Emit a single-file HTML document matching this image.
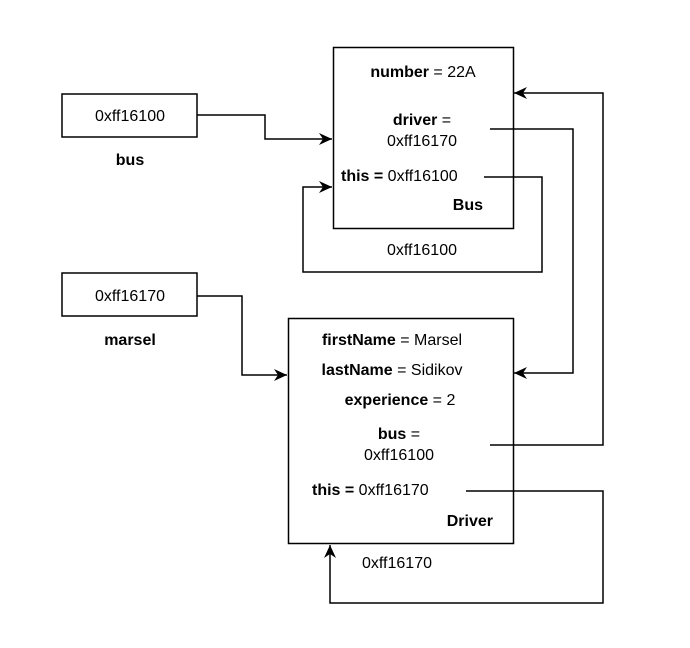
<!DOCTYPE html>
<html><head><style>
html,body{margin:0;padding:0;background:#fff;}
svg text{font-family:"Liberation Sans",Arial,sans-serif;font-size:16px;fill:#000;}
.b{font-weight:bold;}
</style></head><body>
<svg width="690" height="643" viewBox="0 0 690 643" xmlns="http://www.w3.org/2000/svg">
<defs>
<marker id="a" markerWidth="14" markerHeight="12" refX="13" refY="6" orient="auto" markerUnits="userSpaceOnUse">
<path d="M0,0 L13,6 L0,12 L4,6 Z" fill="#000"/>
</marker>
</defs>
<g fill="none" stroke="#000" stroke-width="1.5">
<rect x="62" y="94" width="135" height="43"/>
<rect x="62" y="273" width="135" height="43"/>
<rect x="333.5" y="47.5" width="180" height="181"/>
<rect x="288.5" y="318.5" width="225" height="225"/>
<polyline points="197,115 265,115 265,139 332,139" marker-end="url(#a)"/>
<polyline points="490,129 573,129 573,373 514,373" marker-end="url(#a)"/>
<polyline points="484,177 542,177 542,272 303,272 303,187 332,187" marker-end="url(#a)"/>
<polyline points="197,296 242,296 242,375 287,375" marker-end="url(#a)"/>
<polyline points="490,445 603,445 603,93 514,93" marker-end="url(#a)"/>
<polyline points="466,491 603,491 603,603 330,603 330,545" marker-end="url(#a)"/>
</g>
<text x="130" y="121" text-anchor="middle">0xff16100</text>
<text x="130" y="165" text-anchor="middle" class="b">bus</text>
<text x="130" y="301" text-anchor="middle">0xff16170</text>
<text x="130" y="345" text-anchor="middle" class="b">marsel</text>
<text x="423" y="77" text-anchor="middle"><tspan class="b">number</tspan> = 22A</text>
<text x="422" y="125" text-anchor="middle"><tspan class="b">driver</tspan> =</text>
<text x="422" y="146" text-anchor="middle">0xff16170</text>
<text x="341" y="181"><tspan class="b">this =</tspan> 0xff16100</text>
<text x="483" y="210" text-anchor="end" class="b">Bus</text>
<text x="422" y="255" text-anchor="middle">0xff16100</text>
<text x="392" y="345" text-anchor="middle"><tspan class="b">firstName</tspan> = Marsel</text>
<text x="392" y="375" text-anchor="middle"><tspan class="b">lastName</tspan> = Sidikov</text>
<text x="400" y="405" text-anchor="middle"><tspan class="b">experience</tspan> = 2</text>
<text x="399" y="439" text-anchor="middle"><tspan class="b">bus</tspan> =</text>
<text x="399" y="460" text-anchor="middle">0xff16100</text>
<text x="312" y="495"><tspan class="b">this =</tspan> 0xff16170</text>
<text x="493" y="526" text-anchor="end" class="b">Driver</text>
<text x="397" y="568" text-anchor="middle">0xff16170</text>
</svg>
</body></html>
